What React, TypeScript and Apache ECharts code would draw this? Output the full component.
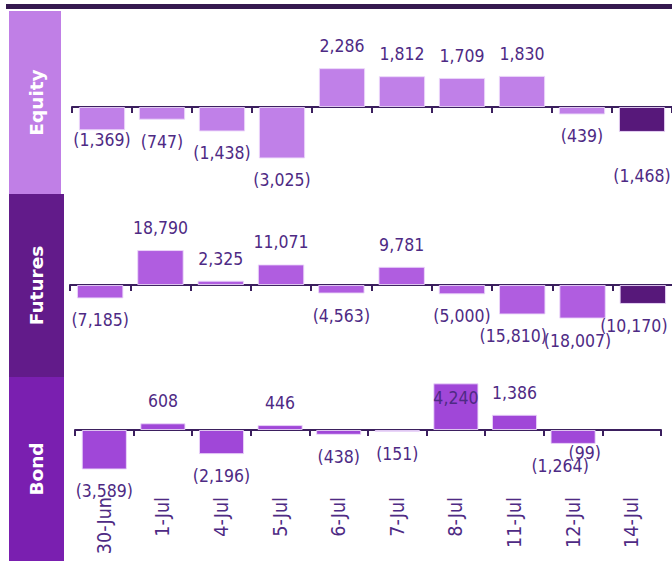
import React, { useEffect, useRef } from "react";
import * as echarts from "echarts";

const categories = ["30-Jun", "1-Jul", "4-Jul", "5-Jul", "6-Jul", "7-Jul", "8-Jul", "11-Jul", "12-Jul", "14-Jul"];
const equityValues = [-1369, -747, -1438, -3025, 2286, 1812, 1709, 1830, -439, -1468];
const futuresValues = [-7185, 18790, 2325, 11071, -4563, 9781, -5000, -15810, -18007, -10170];
const bondValues = [-3589, 608, -2196, 446, -438, -151, 4240, 1386, -1264, -99];
const panelNames = ["Equity", "Futures", "Bond"];

const LABEL_COLOR = "#4e2a84";
const AXIS_COLOR = "#3b1f5e";
const FONT = "'DejaVu Sans', Verdana, sans-serif";
const COND = "'DejaVu Sans Condensed', 'DejaVu Sans', sans-serif";

const fmt = (v: number) =>
  v < 0 ? `(${Math.abs(v).toLocaleString("en-US")})` : v.toLocaleString("en-US");

// label nudges seen in the reference (panel index -> item index -> offset)
const labelNudges: Record<number, Record<number, number[]>> = {
  0: { 0: [0, -12], 9: [0, 22] },
  1: { 7: [-9, 0], 8: [-5, 0], 9: [-9, 0] },
  2: { 8: [-13, 0], 9: [-47, 0] },
};

const panels = [
  {
    name: panelNames[0],
    values: equityValues,
    grid: { left: 72, width: 600, top: 11, height: 183 },
    min: -5118,
    max: 5647,
    bar: "#c080e8",
    last: "#57187a",
    box: { x: 9, y: 11, w: 52, h: 183, color: "#c07fe6" },
  },
  {
    name: panelNames[1],
    values: futuresValues,
    grid: { left: 70, width: 603, top: 194, height: 183 },
    min: -49400,
    max: 48900,
    bar: "#b05de0",
    last: "#57187a",
    box: { x: 9, y: 194, w: 55, h: 183, color: "#621b8a" },
  },
  {
    name: panelNames[2],
    values: bondValues,
    grid: { left: 75, width: 586, top: 377, height: 184 },
    min: -11909,
    max: 4818,
    bar: "#a047d8",
    last: "#a047d8",
    box: { x: 9, y: 377, w: 55, h: 184, color: "#7a1fb0" },
  },
];

export default function App() {
  const ref = useRef<HTMLDivElement>(null);
  useEffect(() => {
    if (!ref.current) return;
    const chart = echarts.init(ref.current, null, { renderer: "svg" });
    const grids = panels.map((p) => ({ ...p.grid, containLabel: false, outerBoundsMode: "none" }));
    const xAxes = panels.map((p, i) => ({
      type: "category",
      gridIndex: i,
      data: categories,
      axisLine: { onZero: true, lineStyle: { color: AXIS_COLOR, width: 2 } },
      axisTick: { show: true, length: 6, lineStyle: { color: AXIS_COLOR, width: 2 } },
      axisLabel: {
        show: i === 2,
        rotate: 90,
        margin: -64,
        color: LABEL_COLOR,
        fontSize: 19.5,
        fontFamily: COND,
        interval: 0,
        hideOverlap: false,
      },
    }));
    const yAxes = panels.map((p, i) => ({
      type: "value",
      gridIndex: i,
      min: p.min,
      max: p.max,
      show: false,
      splitLine: { show: false },
    }));
    const series = panels.map((p, i) => ({
      type: "bar",
      xAxisIndex: i,
      yAxisIndex: i,
      barCategoryGap: "23%",
      itemStyle: { borderColor: "rgba(235,215,250,0.9)", borderWidth: 1 },
      label: {
        show: true,
        color: LABEL_COLOR,
        fontSize: 17.5,
        fontFamily: COND,
        distance: 13,
        formatter: (d: any) => fmt(d.value),
      },
      data: p.values.map((v, j) => {
        const nudge = (labelNudges[i] || {})[j];
        const item: any = {
          value: v,
          itemStyle: { color: j === p.values.length - 1 ? p.last : p.bar },
          label: { position: v < 0 ? "bottom" : "top" },
        };
        if (nudge) item.label.offset = nudge;
        if (i === 2 && j === 6) item.label = { position: "insideTop", distance: 6 };
        if (i === 2 && j === 9) {
          item.itemStyle = { color: "rgba(0,0,0,0)", borderWidth: 0 };
        }
        return item;
      }),
    }));
    const graphic: any[] = [
      { type: "rect", shape: { x: 6, y: 4, width: 666, height: 5 }, style: { fill: "#35194f" } },
    ];
    panels.forEach((p) => {
      graphic.push({
        type: "rect",
        shape: { x: p.box.x, y: p.box.y, width: p.box.w, height: p.box.h },
        style: { fill: p.box.color },
      });
    });
    panels.forEach((p) => {
      graphic.push({
        type: "text",
        x: p.box.x + 27,
        y: p.box.y + p.box.h / 2,
        rotation: Math.PI / 2,
        style: {
          text: p.name,
          fill: "#ffffff",
          font: `bold 18.5px ${FONT}`,
          align: "center",
          verticalAlign: "middle",
        },
      });
    });
    chart.setOption({
      animation: false,
      backgroundColor: "#ffffff",
      grid: grids,
      xAxis: xAxes,
      yAxis: yAxes,
      series,
      graphic,
    });
    return () => chart.dispose();
  }, []);
  return (
    <div
      ref={ref}
      style={{ position: "fixed", left: 0, top: 0, width: 672, height: 561 }}
    />
  );
}
